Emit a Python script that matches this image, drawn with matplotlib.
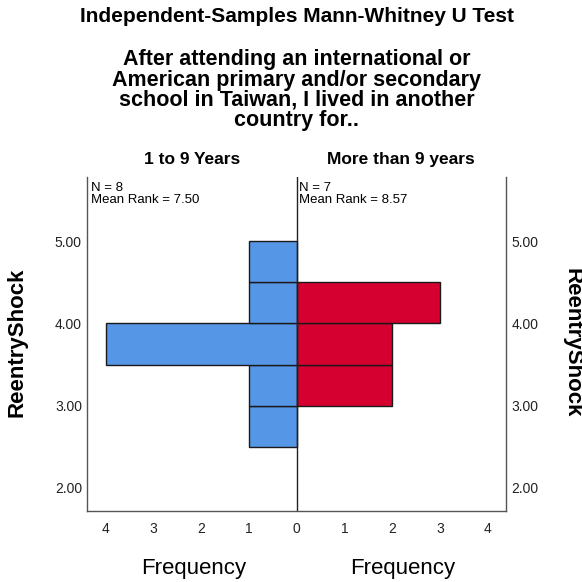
import numpy as np
import matplotlib.pyplot as plt

plt.rcParams['font.family'] = ['Liberation Sans', 'DejaVu Sans']

# bins of ReentryShock (lower edges, width 0.5)
bin_lo = [2.5, 3.0, 3.5, 4.0, 4.5]
bin_w = 0.5
# frequencies per group
freq_1to9 = [1, 1, 4, 1, 1]
freq_more9 = [0, 2, 2, 3, 0]
groups = ["1 to 9 Years", "More than 9 years"]
n_vals = [8, 7]
mean_ranks = [7.50, 8.57]
y_ticks = [2.0, 3.0, 4.0, 5.0]
x_ticks = [-4, -3, -2, -1, 0, 1, 2, 3, 4]

blue = "#5596E6"
red = "#D5002F"

fig = plt.figure(figsize=(5.82, 5.82), dpi=100)
ax = fig.add_axes([0.1503, 0.122, 0.719, 0.574])

centers = np.array(bin_lo) + bin_w / 2
ax.barh(centers, -np.array(freq_1to9), height=bin_w, color=blue,
        edgecolor="#1a1a1a", linewidth=1.0)
mask = np.array(freq_more9) > 0
ax.barh(centers[mask], np.array(freq_more9)[mask], height=bin_w, color=red,
        edgecolor="#1a1a1a", linewidth=1.0)

ax.axvline(0, color="#222222", linewidth=1.0)
ax.set_xlim(-4.38, 4.38)
ax.set_ylim(1.72, 5.78)

ax.spines['top'].set_visible(False)
for s in ['left', 'right', 'bottom']:
    ax.spines[s].set_color("#555555")
    ax.spines[s].set_linewidth(1.0)

ax.set_xticks(x_ticks)
ax.set_xticklabels([str(abs(t)) for t in x_ticks])
ax.set_yticks(y_ticks)
ax.set_yticklabels(["%.2f" % t for t in y_ticks])
ax.tick_params(axis='both', length=0, labelsize=10, colors="#222222")
ax.tick_params(axis='y', labelright=True, pad=4)
ax.tick_params(axis='x', pad=8)

# group headers and stats
ax.text(-2.18, 5.99, groups[0], ha='center', va='center', fontsize=12.5,
        fontweight='bold')
ax.text(2.18, 5.99, groups[1], ha='center', va='center', fontsize=12.5,
        fontweight='bold')
ax.text(-4.3, 5.72, "N = %d\nMean Rank = %.2f" % (n_vals[0], mean_ranks[0]),
        ha='left', va='top', fontsize=9.5, linespacing=1.05)
ax.text(0.05, 5.72, "N = %d\nMean Rank = %.2f" % (n_vals[1], mean_ranks[1]),
        ha='left', va='top', fontsize=9.5, linespacing=1.05)

fig.text(0.51, 0.971, "Independent-Samples Mann-Whitney U Test", ha='center',
         va='center', fontsize=15, fontweight='bold')
fig.text(0.51, 0.845, "After attending an international or\n"
         "American primary and/or secondary\n"
         "school in Taiwan, I lived in another\n"
         "country for..", ha='center', va='center', fontsize=15.5,
         fontweight='bold', linespacing=0.95)

fig.text(0.03, 0.412, "ReentryShock", rotation=90, ha='center', va='center',
         fontsize=16, fontweight='bold')
fig.text(0.983, 0.412, "ReentryShock", rotation=-90, ha='center', va='center',
         fontsize=16, fontweight='bold')
fig.text(0.332, 0.024, "Frequency", ha='center', va='center', fontsize=16)
fig.text(0.692, 0.024, "Frequency", ha='center', va='center', fontsize=16)

fig.savefig("out.png", dpi=100, facecolor="white")
